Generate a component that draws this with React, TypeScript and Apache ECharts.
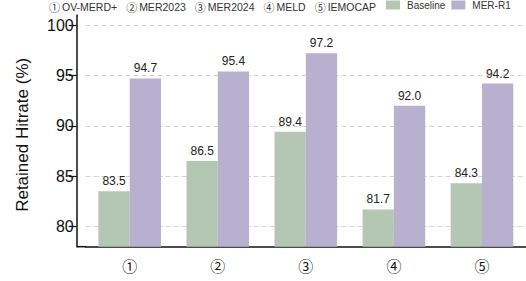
import React, { useEffect, useRef } from "react";
import * as echarts from "echarts";

const categories = ["①", "②", "③", "④", "⑤"];
const datasetNames = ["OV-MERD+", "MER2023", "MER2024", "MELD", "IEMOCAP"];
const baselineValues = [83.5, 86.5, 89.4, 81.7, 84.3];
const merR1Values = [94.7, 95.4, 97.2, 92.0, 94.2];
const yTicks = [80, 85, 90, 95, 100];

const FONT = "'Liberation Sans', Arial, sans-serif";
const CJK = "'Noto Sans CJK JP', 'Noto Sans CJK SC', sans-serif";

export default function App() {
  const ref = useRef<HTMLDivElement>(null);
  useEffect(() => {
    if (!ref.current) return;
    const chart = echarts.init(ref.current, null, { renderer: "svg" });
    const legendText = categories
      .map((c, i) => `{${i === 0 ? "c0" : "c"}|${c}}{t|${datasetNames[i]}}`)
      .join("");
    const label = {
      show: true,
      position: "top" as const,
      distance: 4,
      fontSize: 12,
      color: "#222",
      fontFamily: FONT,
      formatter: (p: any) => Number(p.value).toFixed(1),
    };
    chart.setOption({
      animation: false,
      grid: { left: 85.7, right: -15.7, top: 15, bottom: 34.3, containLabel: false },
      legend: {
        data: ["Baseline", "MER-R1"],
        left: 386,
        top: 0,
        itemWidth: 14,
        itemHeight: 9,
        itemGap: 6,
        padding: 0,
        icon: "rect",
        textStyle: { fontSize: 10, color: "#333", fontFamily: FONT, padding: [2, 0, 0, 2] },
      },
      graphic: [
        {
          type: "text",
          x: 49,
          y: 1,
          style: {
            text: legendText,
            fontSize: 10.5,
            fill: "#333",
            fontFamily: FONT,
            verticalAlign: "top",
            rich: {
              c0: { fontFamily: CJK, fontSize: 11, fill: "#333", lineHeight: 11 },
              c: { fontFamily: CJK, fontSize: 11, fill: "#333", lineHeight: 11, padding: [0, 0, 0, 9] },
              t: { fontFamily: FONT, fontSize: 10.5, fill: "#333", lineHeight: 11, padding: [0, 0, 0, 2] },
            },
          },
        },
        {
          type: "line",
          shape: { x1: 76.7, y1: 246.7, x2: 86, y2: 246.7 },
          style: { stroke: "#111", lineWidth: 1.5 },
        },
      ],
      xAxis: {
        type: "category",
        data: categories,
        boundaryGap: true,
        axisLine: { lineStyle: { color: "#111", width: 1.5 } },
        axisTick: { alignWithLabel: true, length: 5, lineStyle: { color: "#111", width: 1.5 } },
        axisLabel: { fontSize: 15, color: "#111", margin: 11, fontFamily: CJK },
      },
      yAxis: {
        type: "value",
        min: 78,
        max: 101,
        offset: 9,
        name: "Retained Hitrate (%)",
        nameLocation: "middle",
        nameGap: 46,
        nameTextStyle: { fontSize: 17, color: "#111", fontFamily: FONT, padding: [0, 0, 0, -8] },
        axisLine: { show: true, lineStyle: { color: "#111", width: 1.5 } },
        axisTick: { show: true, length: 8, customValues: yTicks, lineStyle: { color: "#111", width: 1.2 } },
        axisLabel: { fontSize: 16, color: "#111", margin: 3, customValues: yTicks, fontFamily: FONT },
        splitLine: { show: false },
      },
      series: [
        {
          name: "Baseline",
          type: "bar",
          data: baselineValues,
          barWidth: 31.3,
          barGap: "0%",
          itemStyle: { color: "#b4c7b3" },
          label,
        },
        {
          name: "MER-R1",
          type: "bar",
          data: merR1Values,
          barWidth: 31.3,
          barGap: "0%",
          itemStyle: { color: "#b7b1cf" },
          label,
          markLine: {
            silent: true,
            symbol: "none",
            z: 1,
            label: { show: false },
            lineStyle: { color: "#d4d4d4", type: [5, 3], width: 1 },
            data: yTicks.map((v) => ({ yAxis: v })),
          },
        },
      ],
    });
    return () => chart.dispose();
  }, []);
  return (
    <div
      ref={ref}
      style={{ position: "absolute", left: 0, top: 0, width: 526, height: 281, background: "#fff" }}
    />
  );
}
